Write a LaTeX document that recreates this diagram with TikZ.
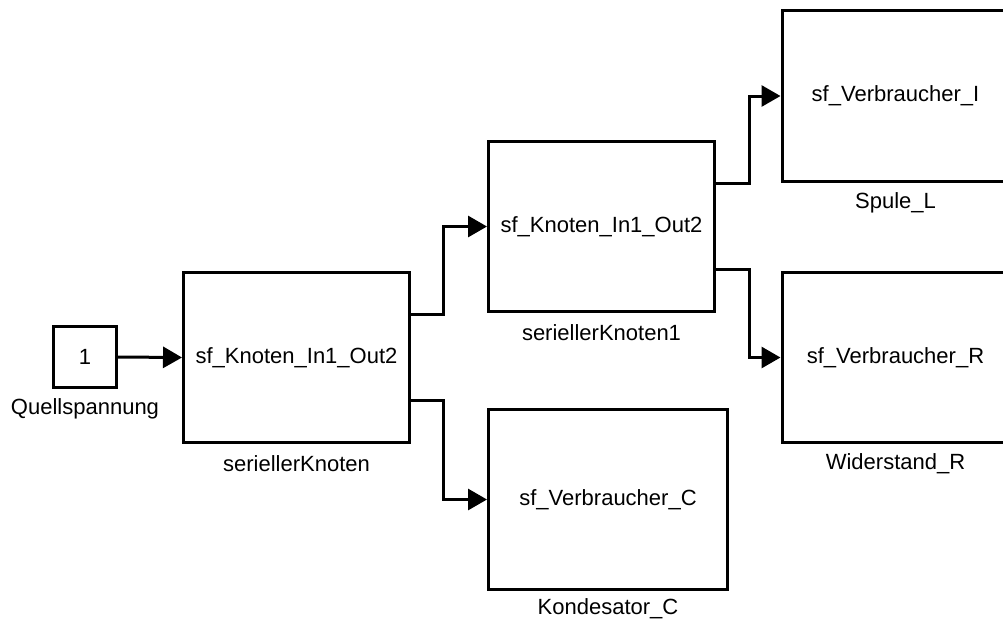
\documentclass[tikz,border=0pt]{standalone}
\usepackage{fontspec}
\setmainfont{Liberation Sans}
\usetikzlibrary{arrows.meta,calc}
\begin{document}
\begin{tikzpicture}[x=1pt,y=-1pt,
  block/.style={draw=black,line width=3pt,fill=white,inner sep=0pt,
    font=\fontsize{22}{26}\selectfont},
  blocklabel/.style={inner sep=0pt,font=\fontsize{22}{26}\selectfont},
  conn/.style={line width=3pt,-{Triangle[length=19pt,width=21pt]}}]
  \useasboundingbox (0,0) rectangle (1003,619);
  \clip (0,0) rectangle (1003,619);

  % blocks (centre positions, sizes)
  \node[block,minimum width=63pt,minimum height=61pt] (src) at (85,357) {1};
  \node[block,minimum width=226pt,minimum height=170pt] (sk) at (296.5,357.5) {sf\_Knoten\_In1\_Out2};
  \node[block,minimum width=226pt,minimum height=170pt] (sk1) at (601.5,226.5) {sf\_Knoten\_In1\_Out2};
  \node[block,minimum width=239pt,minimum height=180pt] (kc) at (608,499.5) {sf\_Verbraucher\_C};
  \node[block,minimum width=227pt,minimum height=171pt] (sl) at (895.5,96) {sf\_Verbraucher\_I};
  \node[block,minimum width=227pt,minimum height=170pt] (wr) at (895.5,357.5) {sf\_Verbraucher\_R};

  % block names
  \node[blocklabel] (lsrc) at (85,409) {Quellspannung};
  \node[blocklabel] (lsk) at (296.5,464) {seriellerKnoten};
  \node[blocklabel] (lsk1) at (601.5,333) {seriellerKnoten1};
  \node[blocklabel] (lkc) at (608,609) {Kondesator\_C};
  \node[blocklabel] (lsl) at (895.5,203) {Spule\_L};
  \node[blocklabel] (lwr) at (895.5,464) {Widerstand\_R};

  % output ports at one and three quarters of the block height
  \coordinate (sko1) at ($(sk.north east)!0.25!(sk.south east)$);
  \coordinate (sko2) at ($(sk.north east)!0.75!(sk.south east)$);
  \coordinate (sk1o1) at ($(sk1.north east)!0.25!(sk1.south east)$);
  \coordinate (sk1o2) at ($(sk1.north east)!0.75!(sk1.south east)$);

  % signal lines
  \draw[conn] (src.east) -- (sk.west);
  \draw[conn] (sko1) -- ++(32,0) |- (sk1.west);
  \draw[conn] (sko2) -- ++(32,0) |- (kc.west);
  \draw[conn] (sk1o1) -- ++(33,0) |- (sl.west);
  \draw[conn] (sk1o2) -- ++(33,0) |- (wr.west);
\end{tikzpicture}
\end{document}
